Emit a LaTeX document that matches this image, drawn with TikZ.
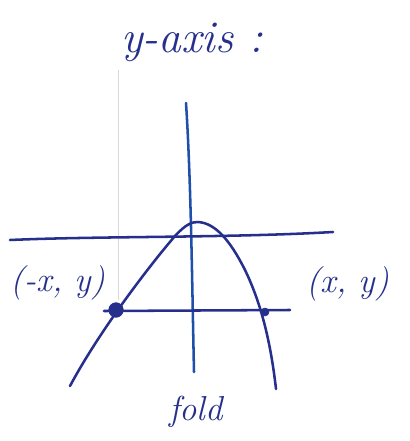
\documentclass[tikz,border=0pt]{standalone}
\definecolor{ink}{RGB}{38,48,140}
\definecolor{ink2}{RGB}{30,80,170}
\begin{document}
\begin{tikzpicture}[x=0.75pt,y=-0.75pt,
  pen/.style={draw=ink,line width=1.9pt,line cap=round,line join=round},
  lbl/.style={text=ink,font=\fontsize{26}{30}\selectfont\itshape},
  dotmark/.style={circle,fill=ink,draw=ink,inner sep=0pt,minimum size=#1}]
\useasboundingbox (0,0) rectangle (409,441);
\fill[white] (0,0) rectangle (409,441);
% faint pencil line
\draw[gray!30,line width=0.4pt] (118,70) -- (118,300);
% y-axis
\draw[draw=ink2,line width=1.9pt,line cap=round] (186,103) .. controls (191,180) and (192,280) .. (194,372);
% x-axis
\draw[pen] (10,240) .. controls (100,236) and (230,238) .. (333,232);
% fold chord
\draw[pen] (104,311) -- (290,310);
% parabola
\draw[pen] (70,386) .. controls (100,330) and (150,265) .. (175,236)
  .. controls (186,224) and (192,222) .. (198,222)
  .. controls (215,223) and (230,240) .. (245,270)
  .. controls (262,305) and (271,345) .. (276,389);
% points
\node[dotmark=11pt] (p1) at (116,310) {};
\node[dotmark=6pt] (p2) at (265,312) {};
% labels
\node[lbl,font=\fontsize{34}{40}\selectfont\itshape] (t) at (192,42) {y-axis :};
\node[lbl] (l1) at (58,283) {(-x, y)};
\node[lbl] (l2) at (348,284) {(x, y)};
\node[lbl] (l3) at (196,412) {fold};
\end{tikzpicture}
\end{document}
